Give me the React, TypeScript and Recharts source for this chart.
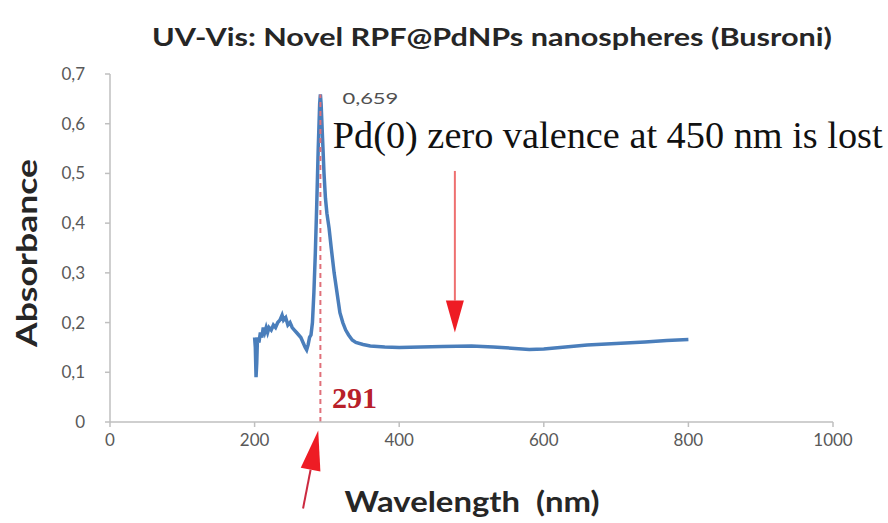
import React from "react";
import {
  LineChart,
  Line,
  XAxis,
  YAxis,
  ReferenceLine,
  ReferenceDot,
} from "recharts";

const wavelengths = [
  200, 201, 202, 203, 204, 206, 208, 210, 212, 214, 216, 218, 220, 223, 226,
  229, 232, 235, 238, 240, 243, 246, 249, 252, 255, 258, 261, 264, 267, 270,
  272, 274, 276, 278, 280, 282, 284, 286, 288, 290, 291, 292, 294, 296, 298,
  300, 303, 306, 310, 314, 318, 322, 326, 330, 335, 340, 350, 360, 380, 400,
  430, 460, 500, 530, 560, 580, 600, 630, 660, 700, 740, 770, 800,
];
const absorbance = [
  0.17, 0.15, 0.09, 0.12, 0.17, 0.16, 0.18, 0.17, 0.19, 0.18, 0.19, 0.18, 0.19,
  0.185, 0.195, 0.19, 0.2, 0.205, 0.215, 0.205, 0.21, 0.195, 0.2, 0.19, 0.185,
  0.18, 0.175, 0.17, 0.16, 0.15, 0.145, 0.155, 0.17, 0.175, 0.2, 0.26, 0.34,
  0.44, 0.55, 0.64, 0.659, 0.64, 0.57, 0.5, 0.45, 0.42, 0.39, 0.35, 0.3, 0.26,
  0.22, 0.2, 0.185, 0.175, 0.165, 0.16, 0.156, 0.153, 0.151, 0.15, 0.151, 0.152,
  0.153, 0.151, 0.148, 0.146, 0.147, 0.151, 0.155, 0.158, 0.161, 0.164, 0.166,
];
const xTicks = [0, 200, 400, 600, 800, 1000];
const yTicks = [0, 0.1, 0.2, 0.3, 0.4, 0.5, 0.6, 0.7];

const peakWavelength = 291;
const peakValue = 0.659;
const peakText = "0,659";
const peakWavelengthText = "291";
const annotationText = "Pd(0) zero valence at 450 nm is lost";
const titleText = "UV-Vis: Novel RPF@PdNPs nanospheres (Busroni)";
const xLabel = "Wavelength  (nm)";
const yLabel = "Absorbance";

// arrow anchor points (data coordinates)
const downArrow = [
  { x: 477, y: 0.505 },
  { x: 477, y: 0.18 },
];
const upArrow = [
  { x: 267, y: -0.174 },
  { x: 288, y: -0.017 },
];
const annotationPos = { x: 308, y: 0.551 };
const wlLabelPos = { x: 307, y: 0.028 };

const data = wavelengths.map((w, i) => ({ w, a: absorbance[i] }));

const makeArrow =
  (headLen: number, headW: number, shaftColor: string, headColor: string, shaftW: number) =>
  (p: any) => {
    const { x1, y1, x2, y2 } = p;
    const dx = x2 - x1;
    const dy = y2 - y1;
    const len = Math.sqrt(dx * dx + dy * dy) || 1;
    const ux = dx / len;
    const uy = dy / len;
    const bx = x2 - ux * headLen;
    const by = y2 - uy * headLen;
    const px = -uy * (headW / 2);
    const py = ux * (headW / 2);
    return (
      <g>
        <line x1={x1} y1={y1} x2={bx} y2={by} stroke={shaftColor} strokeWidth={shaftW} />
        <polygon
          points={`${x2},${y2} ${bx + px},${by + py} ${bx - px},${by - py}`}
          fill={headColor}
        />
      </g>
    );
  };

const fmtY = (v: number) => (v === 0 ? "0" : v.toFixed(1).replace(".", ","));

export default function App() {
  return (
    <div style={{ position: "absolute", left: 0, top: 0, width: 888, height: 523, background: "#fff" }}>
      <LineChart
        width={888}
        height={523}
        data={data}
        margin={{ top: 74, right: 55, bottom: 71, left: 50 }}
      >
        <text
          x={492}
          y={46}
          textAnchor="middle"
          fontFamily="Lato"
          fontWeight="bold"
          fontSize={25}
          fill="#262626"
          textLength={680}
          lengthAdjust="spacingAndGlyphs"
        >
          {titleText}
        </text>
        <text
          x={0}
          y={0}
          transform="translate(37,253) rotate(-90)"
          textAnchor="middle"
          fontFamily="Lato"
          fontWeight="bold"
          fontSize={28}
          fill="#262626"
          textLength={188}
          lengthAdjust="spacingAndGlyphs"
        >
          {yLabel}
        </text>
        <text
          x={472}
          y={512}
          textAnchor="middle"
          fontFamily="Lato"
          fontWeight="bold"
          fontSize={28}
          fill="#262626"
          textLength={255}
          lengthAdjust="spacingAndGlyphs"
          style={{ whiteSpace: "pre" }}
        >
          {xLabel}
        </text>
        <XAxis
          type="number"
          dataKey="w"
          domain={[0, 1000]}
          ticks={xTicks}
          height={30}
          stroke="#bfbfbf"
          strokeWidth={1.5}
          tickSize={5}
          tickMargin={7}
          tick={{ fill: "#595959", fontSize: 17, fontFamily: "Lato" }}
          interval={0}
        />
        <YAxis
          type="number"
          domain={[0, 0.7]}
          ticks={yTicks}
          width={60}
          stroke="#bfbfbf"
          strokeWidth={1.5}
          tickSize={5}
          tickMargin={20}
          tickFormatter={fmtY}
          tick={{ fill: "#595959", fontSize: 17, fontFamily: "Lato" }}
          interval={0}
        />
        <Line
          type="linear"
          dataKey="a"
          stroke="#4a7ebb"
          strokeWidth={3.5}
          dot={false}
          isAnimationActive={false}
        />
        <ReferenceLine
          segment={[
            { x: peakWavelength, y: 0 },
            { x: peakWavelength, y: peakValue },
          ]}
          stroke="#e0707a"
          strokeWidth={2}
          strokeDasharray="5 4"
        />
        <ReferenceLine
          segment={downArrow}
          ifOverflow="visible"
          shape={makeArrow(32, 18, "#ee7070", "#ee1c24", 2)}
        />
        <ReferenceLine
          segment={upArrow}
          ifOverflow="visible"
          shape={makeArrow(40, 20, "#cc2a40", "#ee1c24", 2)}
        />
        <ReferenceDot
          x={peakWavelength}
          y={peakValue}
          ifOverflow="visible"
          shape={(p: any) => (
            <text
              x={p.cx + 22}
              y={p.cy + 10}
              fontFamily="Lato"
              fontSize={15}
              fill="#505050"
              textLength={56}
              lengthAdjust="spacingAndGlyphs"
            >
              {peakText}
            </text>
          )}
        />
        <ReferenceDot
          x={annotationPos.x}
          y={annotationPos.y}
          ifOverflow="visible"
          shape={(p: any) => (
            <text
              x={p.cx}
              y={p.cy}
              fontFamily="Liberation Serif"
              fontSize={38}
              fill="#111"
              textLength={550}
              lengthAdjust="spacingAndGlyphs"
            >
              {annotationText}
            </text>
          )}
        />
        <ReferenceDot
          x={wlLabelPos.x}
          y={wlLabelPos.y}
          ifOverflow="visible"
          shape={(p: any) => (
            <text
              x={p.cx}
              y={p.cy}
              fontFamily="Liberation Serif"
              fontWeight="bold"
              fontSize={30}
              fill="#b8202a"
            >
              {peakWavelengthText}
            </text>
          )}
        />
      </LineChart>
    </div>
  );
}
